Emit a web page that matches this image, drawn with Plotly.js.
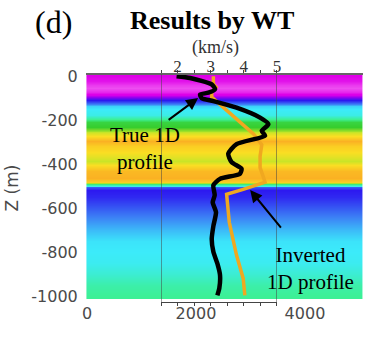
<!DOCTYPE html>
<html>
<head>
<meta charset="utf-8">
<script src="https://cdn.plot.ly/plotly-3.0.1.min.js"></script>
<style>html,body{margin:0;padding:0;background:#fff;}#chart{width:374px;height:340px;}</style>
</head>
<body>
<div id="chart"></div>
<script>
// Background velocity-model image: colour level by depth (m)
const bgDepth = [10, 0, -20, -40, -55, -70, -85, -95, -110, -125, -135, -150, -175, -195, -210, -230, -250, -260, -275, -295, -315, -340, -365, -385, -405, -430, -460, -478, -488, -497, -505, -515, -550, -600, -650, -700, -750, -800, -850, -900, -950, -1000, -1007];
const bgLevel = [0.06, 0.06, 0.05, 0.03, 0.02, 0.04, 0.07, 0.14, 0.22, 0.35, 0.45, 0.48, 0.50, 0.58, 0.66, 0.68, 0.74, 0.80, 0.88, 0.97, 0.90, 0.87, 0.82, 0.78, 0.86, 0.95, 0.97, 0.90, 0.60, 0.50, 0.30, 0.22, 0.24, 0.30, 0.36, 0.42, 0.47, 0.48, 0.49, 0.52, 0.56, 0.58, 0.58];
const bgX = [-10, 2525, 5060];

// True 1D profile (km/s vs depth)
const trueZ = [0, -8, -37, -59, -75, -83, -100, -113, -143, -188, -218, -248, -270, -308, -352, -390, -420, -443, -466, -495, -540, -573, -618, -680, -739, -797, -850, -902, -962, -995];
const trueV = [1.97, 2.38, 3.03, 3.13, 2.93, 2.68, 2.73, 3.08, 3.78, 4.49, 4.74, 4.54, 4.64, 3.78, 3.53, 3.63, 3.93, 3.88, 3.28, 3.08, 3.12, 3.06, 3.16, 3.08, 3.03, 3.08, 3.20, 3.28, 3.26, 3.20];

// Inverted 1D profile
const invZ = [0, -35, -50, -72, -95, -262, -311, -363, -415, -481, -514, -536, -663, -813, -918, -995];
const invV = [3.08, 3.08, 3.16, 3.03, 3.03, 4.29, 4.54, 4.49, 4.49, 4.64, 3.98, 3.48, 3.56, 3.78, 3.98, 4.03];

const bottomTicks = [0, 2000, 4000];
const depthTicks = [0, -200, -400, -600, -800, -1000];
const depthTickText = ['0', '-200', '-400', '-600', '-800', '-1000'];
const velTicks = [1.5, 2, 2.5, 3, 3.5, 4, 4.5, 5];
const velTickText = ['', '2', '', '3', '', '4', '', '5'];

const serif = 'Liberation Serif, Times New Roman, serif';
const sans = 'DejaVu Sans, sans-serif';

const colorscale = [
  [0.00, 'rgb(245,115,245)'],
  [0.06, 'rgb(222,0,232)'],
  [0.14, 'rgb(150,0,240)'],
  [0.22, 'rgb(45,25,240)'],
  [0.35, 'rgb(60,130,245)'],
  [0.48, 'rgb(60,235,250)'],
  [0.58, 'rgb(60,240,150)'],
  [0.68, 'rgb(55,205,45)'],
  [0.76, 'rgb(190,230,40)'],
  [0.86, 'rgb(250,222,35)'],
  [1.00, 'rgb(250,165,35)']
];

const zGrid = bgLevel.map(v => [v, v]);

const traces = [
  {type: 'heatmap', x: bgX, y: bgDepth, z: zGrid, colorscale: colorscale, zmin: 0, zmax: 1,
   showscale: false, zsmooth: 'best', xaxis: 'x', yaxis: 'y', hoverinfo: 'skip'},
  {type: 'scatter', mode: 'lines', x: invV, y: invZ, xaxis: 'x2', yaxis: 'y',
   line: {color: '#f0a820', width: 3.5}, hoverinfo: 'skip'},
  {type: 'scatter', mode: 'lines', x: trueV, y: trueZ, xaxis: 'x2', yaxis: 'y',
   line: {color: '#000000', width: 4.5, shape: 'spline', smoothing: 0.6}, hoverinfo: 'skip'},
  {type: 'scatter', mode: 'lines', x: [velTicks[0], velTicks[velTicks.length-1]], y: [depthTicks[0], depthTicks[0]],
   xaxis: 'x3', yaxis: 'y', line: {width: 0, color: 'rgba(0,0,0,0)'}, hoverinfo: 'skip'}
];

const layout = {
  width: 374, height: 340,
  margin: {l: 86, r: 11, t: 74, b: 38},
  paper_bgcolor: '#ffffff', plot_bgcolor: 'rgba(0,0,0,0)',
  showlegend: false,
  xaxis: {domain: [0, 1], range: [-18, 5065], tickvals: bottomTicks, ticks: '', showgrid: false, zeroline: false,
          showline: false, tickfont: {family: sans, size: 16, color: '#4a4a4a'}},
  yaxis: {range: [-1025, 10], tickvals: depthTicks, ticktext: depthTickText, ticks: 'outside', ticklen: 4, tickcolor: 'rgba(0,0,0,0)',
          showgrid: false, zeroline: false, showline: false,
          tickfont: {family: sans, size: 16, color: '#4a4a4a'},
          title: {text: 'Z (m)', font: {family: sans, size: 17, color: '#4a4a4a'}, standoff: 8}},
  xaxis2: {domain: [0.2708, 0.6895], anchor: 'y', side: 'top', range: [1.5, 5], tickvals: velTicks, ticktext: velTickText,
           ticks: 'outside', ticklen: 3, tickcolor: '#444', showline: true, linecolor: '#444', linewidth: 1.5,
           ticklabelstandoff: -9,
           showgrid: false, zeroline: false, tickfont: {family: serif, size: 17, color: '#333'}},
  xaxis3: {domain: [0.2708, 0.6895], anchor: 'y', side: 'bottom', range: [1.5, 5], tickvals: velTicks,
           showticklabels: false, ticks: 'outside', ticklen: 3, tickcolor: '#444', showline: true, linecolor: '#444',
           linewidth: 1, showgrid: false, zeroline: false},
  shapes: [
    {type: 'line', xref: 'paper', yref: 'paper', x0: 0, x1: 1, y0: 1, y1: 1, line: {color: '#666', width: 2}},
    {type: 'line', xref: 'x2', yref: 'paper', x0: 1.5, x1: 1.5, y0: 0, y1: 1, line: {color: '#444', width: 1}},
    {type: 'line', xref: 'x2', yref: 'paper', x0: 5, x1: 5, y0: 0, y1: 1, line: {color: '#444', width: 1}}
  ],
  annotations: [
    {text: '<b>Results by WT</b>', xref: 'paper', yref: 'paper', x: 0.455, y: 1.236, xanchor: 'center', yanchor: 'middle',
     showarrow: false, font: {family: serif, size: 26, color: '#000'}},
    {text: '(d)', xref: 'paper', yref: 'paper', x: -0.119, y: 1.228, xanchor: 'center', yanchor: 'middle',
     showarrow: false, font: {family: serif, size: 32, color: '#000'}},
    {text: '(km/s)', xref: 'paper', yref: 'paper', x: 0.469, y: 1.118, xanchor: 'center', yanchor: 'middle',
     showarrow: false, font: {family: serif, size: 18, color: '#333'}},
    {text: '(e)', xref: 'paper', yref: 'paper', x: -0.094, y: -0.215, xanchor: 'center', yanchor: 'middle',
     showarrow: false, font: {family: serif, size: 32, color: '#000'}},
    {text: 'True 1D<br>profile', xref: 'paper', yref: 'paper', x: 0.213, y: 0.675, xanchor: 'center', yanchor: 'middle',
     showarrow: false, font: {family: serif, size: 21, color: '#000'}},
    {text: '', xref: 'x2', yref: 'y', x: 2.62, y: -99, ax: -31, ay: 23, showarrow: true, arrowhead: 2,
     arrowsize: 1.2, arrowwidth: 2, arrowcolor: '#000'},
    {text: 'Inverted<br>1D profile', xref: 'paper', yref: 'paper', x: 0.812, y: 0.149, xanchor: 'center', yanchor: 'middle',
     showarrow: false, font: {family: serif, size: 21, color: '#000'}},
    {text: '', xref: 'x2', yref: 'y', x: 4.19, y: -517, ax: 32, ay: 39, showarrow: true, arrowhead: 2,
     arrowsize: 1.2, arrowwidth: 2, arrowcolor: '#000'}
  ]
};

Plotly.newPlot('chart', traces, layout, {staticPlot: true, displayModeBar: false});
</script>
</body>
</html>
